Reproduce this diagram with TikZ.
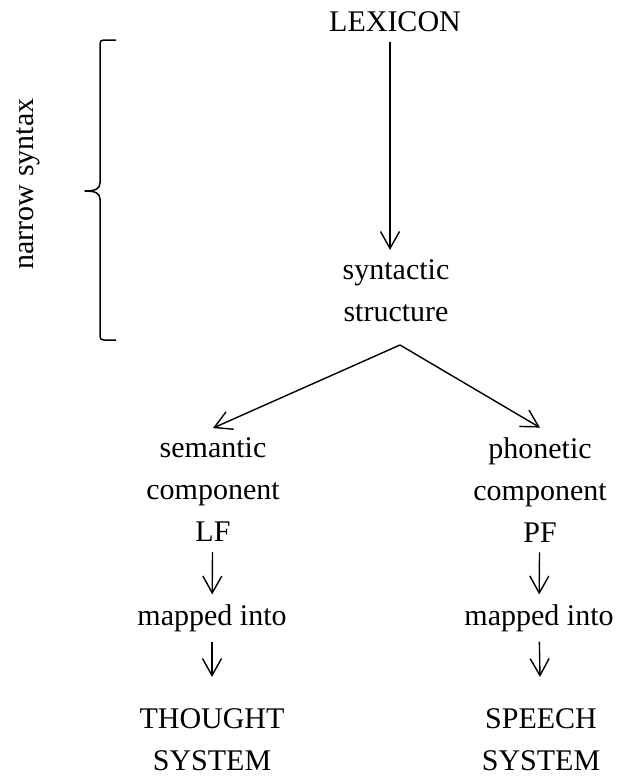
\documentclass[tikz,border=0pt]{standalone}
\usepackage{fontspec}
\setmainfont{Liberation Serif}
\usetikzlibrary{arrows.meta}
\tikzset{
	lbl/.style={font=\fontsize{15}{21}\selectfont, align=center, inner sep=0pt, outer sep=5pt},
	arr/.style={-{Straight Barb[length=8.5pt,width=9.5pt]}, line width=0.7pt},
	brk/.style={line width=0.75pt, line join=round}
}
\begin{document}
\begin{tikzpicture}[x=0.5pt,y=-0.5pt]
			\useasboundingbox (0,0) rectangle (617,777);

			\node [lbl] (lex) at (395,22) {LEXICON};
			\node [lbl] (syn) at (396,291) {syntactic\\structure};
			\coordinate (fork) at (400,345);

			\node [lbl] (sem) at (213,490) {semantic\\component\\LF};
			\node [lbl] (pho) at (540,490) {phonetic\\component\\PF};
			\node [lbl] (smap) at (212,618) {mapped into};
			\node [lbl] (pmap) at (539,618) {mapped into};
			\node [lbl] (thought) at (212,740) {THOUGHT\\SYSTEM};
			\node [lbl] (speech) at (541,740) {SPEECH\\SYSTEM};

			\draw [arr] ([xshift=-2.5pt]lex.south) -- ([xshift=-2.5pt]lex.south |- syn.north);
			\draw [arr] (fork) -- (sem.north);
			\draw [arr] (fork) -- (pho.north);
			\draw [arr] (sem) -- (smap);
			\draw [arr] (pho) -- (pmap);
			\draw [arr, shorten >=11pt] (smap) -- (thought);
			\draw [arr, shorten >=11pt] (pmap) -- (speech);

			\draw [brk] (116,40) -- (104,40) .. controls (101,40) and (100,41) .. (100,44) -- (100,183)
				.. controls (100,189) and (95,191) .. (85,191) .. controls (95,191) and (100,193) .. (100,199)
				-- (100,336) .. controls (100,339) and (101,340) .. (104,340) -- (116,340);
			\node [lbl, rotate=90] (ns) at (28,184) {narrow syntax};
		\end{tikzpicture}
\end{document}
